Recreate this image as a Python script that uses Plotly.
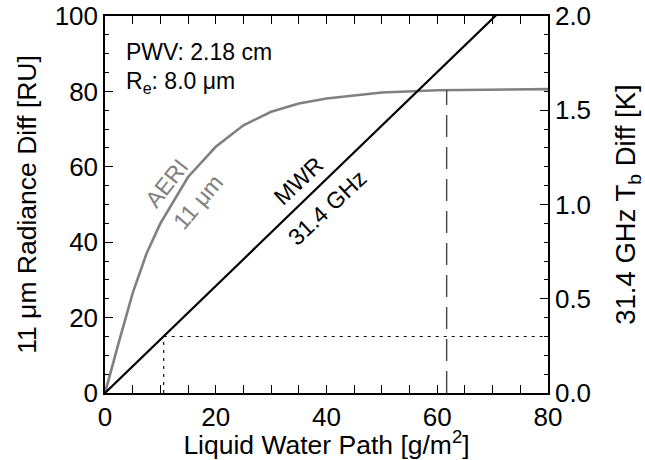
import plotly.graph_objects as go

# Liquid water path grid [g/m^2] and AERI 11 um radiance difference [RU]
lwp_aeri = [0, 1, 2.5, 5, 7.5, 10, 15, 20, 25, 30, 35, 40, 50, 60, 70, 80]
rad_aeri = [0, 5.5, 13.5, 26.5, 37, 45, 57.3, 65.3, 71, 74.6, 76.8, 78.1, 79.7, 80.3, 80.5, 80.6]

# MWR 31.4 GHz brightness temperature difference [K]
lwp_mwr = [0, 80]
tb_mwr = [0, 2.27]

# MWR sensitivity threshold and the LWP where it is reached
tb_thresh = 0.3
lwp_thresh = 10.6

# LWP at which the AERI signal saturates
lwp_sat = 61.7
rad_sat = 80.4

GRAY = "#808080"
FONT = "Liberation Sans, Arial, Helvetica, sans-serif"

fig = go.Figure()

fig.add_trace(go.Scatter(
    x=lwp_aeri, y=rad_aeri, mode="lines",
    line=dict(color=GRAY, width=2.6), yaxis="y", showlegend=False))

fig.add_trace(go.Scatter(
    x=lwp_mwr, y=tb_mwr, mode="lines",
    line=dict(color="black", width=2.2), yaxis="y2", showlegend=False))

# dotted threshold guides
fig.add_trace(go.Scatter(
    x=[lwp_thresh, lwp_thresh, None, lwp_thresh, 80],
    y=[0, tb_thresh, None, tb_thresh, tb_thresh], mode="lines",
    line=dict(color="black", width=1.1, dash="3px,5px"), yaxis="y2", showlegend=False))

# dashed saturation guide
fig.add_trace(go.Scatter(
    x=[lwp_sat, lwp_sat], y=[0, rad_sat], mode="lines",
    line=dict(color="#444444", width=1.4, dash="22px,10px"), yaxis="y", showlegend=False))

tick_font = dict(family=FONT, size=26, color="black")
title_font = dict(family=FONT, size=26.5, color="black")

fig.update_layout(
    width=645, height=460,
    margin=dict(l=105, r=97, t=16, b=67, autoexpand=False),
    paper_bgcolor="white", plot_bgcolor="white",
    font=dict(family=FONT, color="black"),
    xaxis=dict(
        range=[0, 80], dtick=20, ticks="inside", ticklen=8, tickwidth=1,
        tickcolor="black", showline=True, linecolor="black", linewidth=1.5,
        mirror="allticks", showgrid=False, zeroline=False, tickfont=tick_font,
        automargin=False,
        minor=dict(dtick=5, ticks="inside", ticklen=4, tickcolor="black", tickwidth=1, showgrid=False),
        title=dict(text="Liquid Water Path [g/m<sup>2</sup>]", font=title_font, standoff=0),
    ),
    yaxis=dict(
        range=[0, 100], dtick=20, ticks="inside", ticklen=8, tickwidth=1,
        tickcolor="black", showline=True, linecolor="black", linewidth=1.5,
        showgrid=False, zeroline=False, tickfont=tick_font, automargin=False,
        minor=dict(dtick=5, ticks="inside", ticklen=4, tickcolor="black", tickwidth=1, showgrid=False),
        title=dict(text="11 \u03bcm Radiance Diff [RU]", font=title_font, standoff=10),
    ),
    yaxis2=dict(
        range=[0, 2], dtick=0.5, tickformat=".1f", overlaying="y", side="right",
        ticks="inside", ticklen=8, tickwidth=1, tickcolor="black",
        showline=True, linecolor="black", linewidth=1.5, automargin=False,
        showgrid=False, zeroline=False, tickfont=tick_font,
        minor=dict(dtick=0.1, ticks="inside", ticklen=4, tickcolor="black", tickwidth=1, showgrid=False),
        title=dict(text="31.4 GHz T<sub>b</sub> Diff [K]",
                   font=dict(family=FONT, size=27.5, color="black"), standoff=36),
    ),
)

ann_font = dict(family=FONT, size=23, color="black")
gray_font = dict(family=FONT, size=23, color=GRAY)

fig.add_annotation(x=3.4, y=90.5, xref="x", yref="y", text="PWV: 2.18 cm",
                   showarrow=False, xanchor="left", yanchor="middle", font=ann_font)
fig.add_annotation(x=3.4, y=82.3, xref="x", yref="y", text="R<sub>e</sub>: 8.0 \u03bcm",
                   showarrow=False, xanchor="left", yanchor="middle", font=ann_font)
fig.add_annotation(x=11.2, y=55.6, xref="x", yref="y", text="AERI", textangle=-52,
                   showarrow=False, font=gray_font)
fig.add_annotation(x=16.8, y=50.6, xref="x", yref="y", text="11 \u03bcm", textangle=-50,
                   showarrow=False, font=gray_font)
fig.add_annotation(x=34.9, y=56.2, xref="x", yref="y", text="MWR", textangle=-43,
                   showarrow=False, font=ann_font)
fig.add_annotation(x=40.1, y=49.0, xref="x", yref="y", text="31.4 GHz", textangle=-43,
                   showarrow=False, font=ann_font)

fig.write_html("out.html")
